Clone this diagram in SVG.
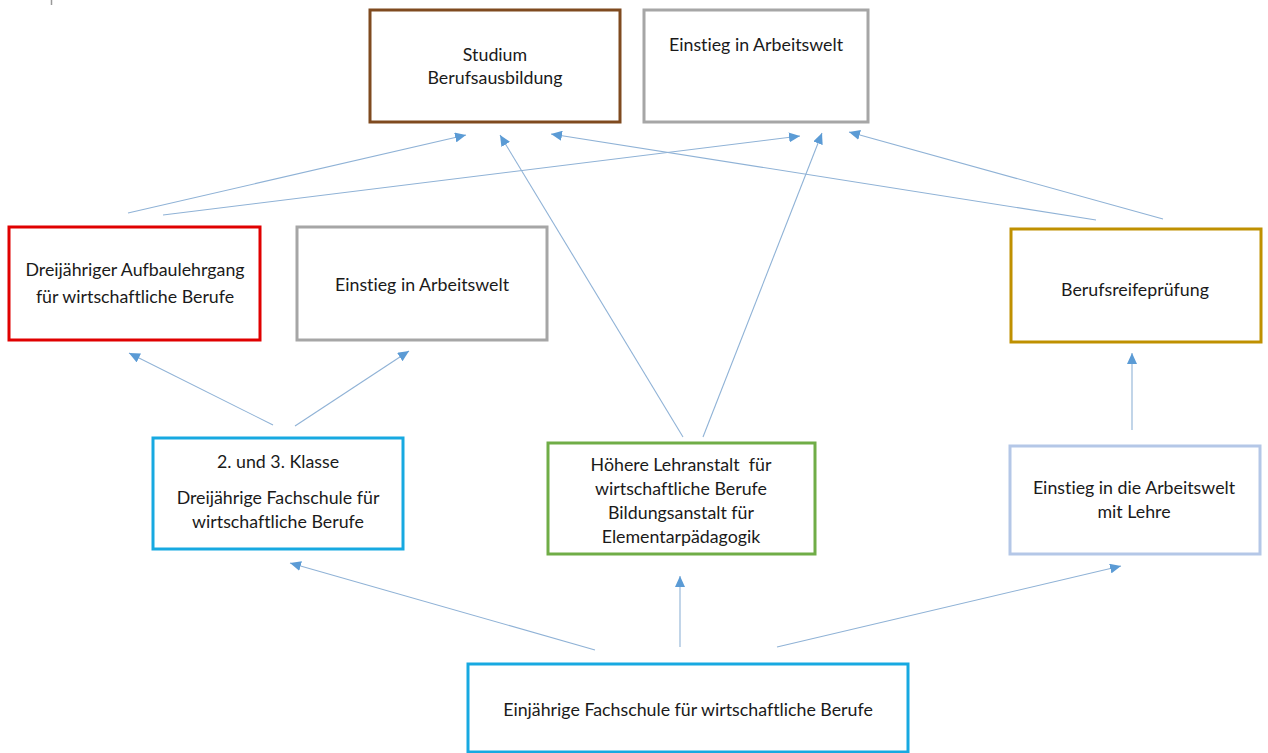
<svg xmlns="http://www.w3.org/2000/svg" width="1268" height="753" viewBox="0 0 1268 753">
<defs>
<marker id="ah" markerUnits="userSpaceOnUse" markerWidth="12" markerHeight="10" refX="11" refY="5" orient="auto">
<path d="M0,0 L11,5 L0,10 Z" fill="#5B9BD5"/>
</marker>
<style>
.box{fill:#fff;stroke-width:3}
.t{font-family:Lato,"Open Sans","Liberation Sans",sans-serif;font-size:17.8px;fill:#1a1a1a;text-anchor:middle;font-variant-ligatures:none;font-feature-settings:"liga" 0,"clig" 0,"dlig" 0}
.c{fill:none;stroke:#8FB2D6;stroke-width:1.1;marker-end:url(#ah)}
</style>
</defs>
<rect width="1268" height="753" fill="#fff"/>
<line x1="51.5" y1="0" x2="51.5" y2="5" stroke="#999" stroke-width="1.5"/>
<g id="connectors">
<line class="c" x1="128" y1="213" x2="466" y2="135"/>
<line class="c" x1="163" y1="215" x2="800" y2="136"/>
<line class="c" x1="683" y1="437" x2="500" y2="135"/>
<line class="c" x1="703" y1="437" x2="822" y2="133"/>
<line class="c" x1="1096" y1="220" x2="551" y2="134"/>
<line class="c" x1="1163" y1="219" x2="849" y2="132"/>
<line class="c" x1="273" y1="425" x2="129" y2="353"/>
<line class="c" x1="295" y1="426" x2="409" y2="351"/>
<line class="c" x1="1132" y1="430" x2="1132" y2="353"/>
<line class="c" x1="595" y1="650" x2="290" y2="563"/>
<line class="c" x1="680" y1="647" x2="680" y2="576"/>
<line class="c" x1="777" y1="647" x2="1121" y2="566"/>
</g>
<g id="studium">
<rect class="box" x="370" y="10" width="250" height="112" stroke="#7F4A1F"/>
<text class="t" x="495" y="61">Studium</text>
<text class="t" x="495" y="84">Berufsausbildung</text>
</g>
<g id="einstieg-top">
<rect class="box" x="644" y="10" width="224" height="112" stroke="#A6A6A6"/>
<text class="t" x="756" y="51">Einstieg in Arbeitswelt</text>
</g>
<g id="aufbaulehrgang">
<rect class="box" x="9" y="227" width="251" height="113" stroke="#E00000"/>
<text class="t" x="135" y="276">Dreijähriger Aufbaulehrgang</text>
<text class="t" x="135" y="303">für wirtschaftliche Berufe</text>
</g>
<g id="einstieg-mid">
<rect class="box" x="297" y="227" width="250" height="113" stroke="#A6A6A6"/>
<text class="t" x="422" y="291">Einstieg in Arbeitswelt</text>
</g>
<g id="berufsreife">
<rect class="box" x="1011" y="229" width="250" height="113" stroke="#BF9000"/>
<text class="t" x="1135" y="296">Berufsreifeprüfung</text>
</g>
<g id="fachschule-3">
<rect class="box" x="153" y="438" width="250" height="111" stroke="#17A9E1"/>
<text class="t" x="278" y="468">2. und 3. Klasse</text>
<text class="t" x="278" y="504">Dreijährige Fachschule für</text>
<text class="t" x="278" y="528">wirtschaftliche Berufe</text>
</g>
<g id="hoehere">
<rect class="box" x="548" y="443" width="267" height="111" stroke="#70AD47"/>
<text class="t" x="681" y="471" xml:space="preserve">Höhere Lehranstalt  für</text>
<text class="t" x="681" y="495">wirtschaftliche Berufe</text>
<text class="t" x="681" y="519">Bildungsanstalt für</text>
<text class="t" x="681" y="543">Elementarpädagogik</text>
</g>
<g id="lehre">
<rect class="box" x="1010" y="446" width="250" height="108" stroke="#B4C7E7"/>
<text class="t" x="1134" y="494">Einstieg in die Arbeitswelt</text>
<text class="t" x="1134" y="518">mit Lehre</text>
</g>
<g id="einjaehrige">
<rect class="box" x="468" y="664" width="440" height="88" stroke="#17A9E1"/>
<text class="t" x="688" y="716">Einjährige Fachschule für wirtschaftliche Berufe</text>
</g>
</svg>
